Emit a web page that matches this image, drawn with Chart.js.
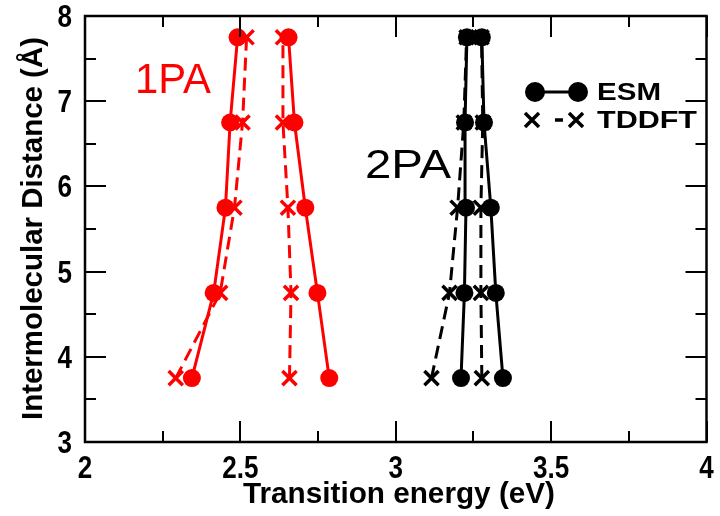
<!DOCTYPE html>
<html lang="en">
<head>
<meta charset="UTF-8">
<title>Transition energy vs intermolecular distance</title>
<script src="https://cdn.jsdelivr.net/npm/chart.js"></script>
<style>
  body { margin: 0; background: #fff; }
</style>
</head>
<body>
<canvas id="chart" width="720" height="516"></canvas>
<script>
// Intermolecular distances (Å) shared by every branch
const distances = [3.75, 4.75, 5.75, 6.75, 7.75];

// 1PA transition energies (eV), two branches each
const esm1paLow    = [2.344, 2.414, 2.452, 2.467, 2.491];
const esm1paHigh   = [2.786, 2.748, 2.709, 2.674, 2.655];
const tddft1paLow  = [2.292, 2.435, 2.481, 2.507, 2.520];
const tddft1paHigh = [2.658, 2.663, 2.653, 2.637, 2.637];

// 2PA transition energies (eV)
const esm2paLow    = [3.210, 3.221, 3.226, 3.223, 3.229];
const esm2paHigh   = [3.345, 3.322, 3.306, 3.284, 3.277];
const tddft2paLow  = [3.115, 3.173, 3.199, 3.219, 3.228];
const tddft2paHigh = [3.277, 3.274, 3.274, 3.280, 3.276];

const xTicks = [2, 2.5, 3, 3.5, 4];
const yTicks = [3, 4, 5, 6, 7, 8];

const RED = '#ff0000';
const BLACK = '#000000';

function esmSeries(xs, color) {
  return {
    data: xs.map((x, i) => ({ x: x, y: distances[i] })),
    showLine: true,
    borderColor: color,
    borderWidth: 3,
    pointStyle: 'circle',
    pointRadius: 9,
    pointBackgroundColor: color,
    pointBorderColor: color,
    pointBorderWidth: 0,
    order: 0
  };
}

function tddftSeries(xs, color) {
  return {
    data: xs.map((x, i) => ({ x: x, y: distances[i] })),
    showLine: true,
    borderColor: color,
    borderWidth: 3,
    borderDash: [13, 7],
    pointStyle: 'crossRot',
    pointRadius: 10,
    pointBorderColor: color,
    pointBorderWidth: 3.5,
    order: 1
  };
}

// draw text squeezed/stretched to a given width; align 'left' or 'center' or 'right'
function fitText(ctx, text, x, y, font, width, color, align) {
  ctx.save();
  ctx.font = font;
  ctx.fillStyle = color;
  ctx.textAlign = 'left';
  ctx.textBaseline = 'alphabetic';
  const w = ctx.measureText(text).width;
  const sx = typeof width === 'number' ? width / w : width.scale;
  const tw = w * sx;
  const left = align === 'center' ? x - tw / 2 : align === 'right' ? x - tw : x;
  ctx.translate(left, y);
  ctx.scale(sx, 1);
  ctx.fillText(text, 0, 0);
  ctx.restore();
}

const TICK_FONT = 'bold 31px "Liberation Sans"';
const NARROW = { scale: 0.84 };

// frame with inward ticks, tick labels, titles and legend
const decorations = {
  id: 'decorations',
  afterDraw(chart) {
    const ctx = chart.ctx;
    const a = chart.chartArea;
    const xs = chart.scales.x, ys = chart.scales.y;
    ctx.save();
    ctx.strokeStyle = BLACK;
    ctx.lineWidth = 2.5;
    ctx.strokeRect(a.left, a.top, a.right - a.left, a.bottom - a.top);

    ctx.lineWidth = 2;
    ctx.beginPath();
    for (let v = 2; v <= 4.001; v += 0.25) {
      const px = Math.round(xs.getPixelForValue(v));
      const len = Math.abs(v * 2 - Math.round(v * 2)) < 1e-6 ? 21 : 11;
      ctx.moveTo(px, a.bottom); ctx.lineTo(px, a.bottom - len);
      ctx.moveTo(px, a.top); ctx.lineTo(px, a.top + len);
    }
    for (let v = 3; v <= 8.001; v += 0.5) {
      const py = Math.round(ys.getPixelForValue(v));
      const len = Math.abs(v - Math.round(v)) < 1e-6 ? 21 : 11;
      ctx.moveTo(a.left, py); ctx.lineTo(a.left + len, py);
      ctx.moveTo(a.right, py); ctx.lineTo(a.right - len, py);
    }
    ctx.stroke();

    // tick labels
    xs.ticks.forEach(t => {
      fitText(ctx, String(t.value), xs.getPixelForValue(t.value), a.bottom + 36, TICK_FONT, NARROW, BLACK, 'center');
    });
    ys.ticks.forEach(t => {
      fitText(ctx, String(t.value), a.left - 13, ys.getPixelForValue(t.value) + 11, TICK_FONT, NARROW, BLACK, 'right');
    });

    // axis titles
    fitText(ctx, 'Transition energy (eV)', 243, 503, 'bold 29px "Liberation Sans"', 312, BLACK);
    ctx.save();
    ctx.translate(42, 420);
    ctx.rotate(-Math.PI / 2);
    fitText(ctx, 'Intermolecular Distance (Å)', 0, 0, 'bold 29px "Liberation Sans"', 383, BLACK);
    ctx.restore();

    // group labels
    fitText(ctx, '1PA', 135, 93, '43px "Liberation Sans"', 76, RED);
    fitText(ctx, '2PA', 365, 178, '41px "Liberation Sans"', 86, BLACK);

    // legend
    ctx.strokeStyle = BLACK;
    ctx.fillStyle = BLACK;
    ctx.lineWidth = 3;
    ctx.beginPath();
    ctx.moveTo(535, 92); ctx.lineTo(578, 92);
    ctx.stroke();
    [535, 578].forEach(cx => {
      ctx.beginPath();
      ctx.arc(cx, 92, 10, 0, Math.PI * 2);
      ctx.fill();
    });
    ctx.lineWidth = 3.5;
    ctx.beginPath();
    [532, 576].forEach(cx => {
      ctx.moveTo(cx - 7, 113); ctx.lineTo(cx + 7, 127);
      ctx.moveTo(cx - 7, 127); ctx.lineTo(cx + 7, 113);
    });
    ctx.moveTo(555, 120); ctx.lineTo(563, 120);
    ctx.stroke();
    fitText(ctx, 'ESM', 597, 100, 'bold 23px "Liberation Sans"', 64, BLACK);
    fitText(ctx, 'TDDFT', 597, 128, 'bold 23px "Liberation Sans"', 100, BLACK);
    ctx.restore();
  }
};

new Chart(document.getElementById('chart'), {
  type: 'scatter',
  data: {
    datasets: [
      esmSeries(esm1paLow, RED),
      esmSeries(esm1paHigh, RED),
      esmSeries(esm2paLow, BLACK),
      esmSeries(esm2paHigh, BLACK),
      tddftSeries(tddft1paLow, RED),
      tddftSeries(tddft1paHigh, RED),
      tddftSeries(tddft2paLow, BLACK),
      tddftSeries(tddft2paHigh, BLACK)
    ]
  },
  options: {
    responsive: false,
    animation: false,
    layout: { padding: { top: 16, right: 7, left: 0, bottom: 0 } },
    plugins: { legend: { display: false }, tooltip: { enabled: false } },
    scales: {
      x: {
        type: 'linear', min: 2, max: 4,
        afterBuildTicks: s => { s.ticks = xTicks.map(v => ({ value: v })); },
        afterFit: s => { s.height = 74; s.paddingLeft = 0; s.paddingRight = 0; },
        grid: { display: false },
        border: { display: false },
        ticks: { display: false }
      },
      y: {
        type: 'linear', min: 3, max: 8,
        afterBuildTicks: s => { s.ticks = yTicks.map(v => ({ value: v })); },
        afterFit: s => { s.width = 85; s.paddingTop = 0; s.paddingBottom = 0; },
        grid: { display: false },
        border: { display: false },
        ticks: { display: false }
      }
    }
  },
  plugins: [decorations]
});
</script>
</body>
</html>
